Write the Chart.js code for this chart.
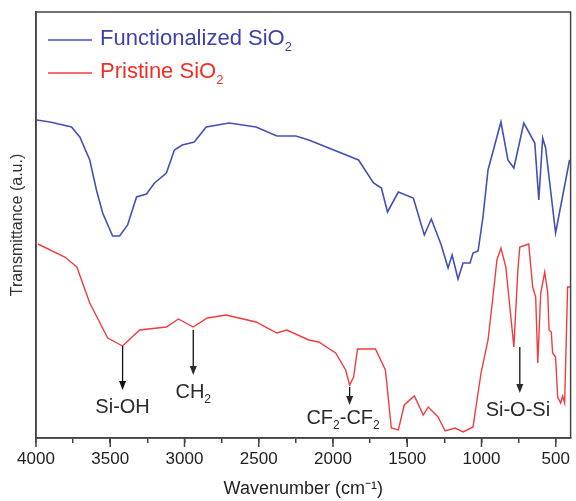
<!DOCTYPE html>
<html>
<head>
<meta charset="utf-8">
<script src="https://cdn.jsdelivr.net/npm/chart.js@4"></script>
<style>
  html, body { margin: 0; padding: 0; background: #fff; }
</style>
</head>
<body>
<canvas id="ftir" width="576" height="501"></canvas>
<script>
// FTIR spectra (y in arbitrary transmittance units)
const blueWavenumber = [3995, 3906, 3761, 3705, 3638, 3593, 3551, 3484, 3437, 3383, 3323, 3256, 3202, 3122, 3068, 3015, 2934, 2854, 2699, 2518, 2378, 2250, 2163, 1828, 1727, 1674, 1633, 1560, 1459, 1385, 1338, 1271, 1225, 1198, 1158, 1124, 1077, 1057, 1023, 990, 956, 869, 822, 782, 715, 641, 614, 588, 568, 501, 407];
const blueTrans = [318, 316, 311, 301, 278, 248, 225, 202, 202, 213, 241, 244, 255, 265, 288, 293, 296, 311, 315, 311, 302, 302, 298, 278, 255, 250, 226, 246, 240, 203, 219, 193, 170, 183, 159, 175, 175, 185, 187, 221, 268, 316, 278, 270, 315, 295, 238, 300, 290, 205, 278];

const redWavenumber = [3987, 3806, 3725, 3638, 3517, 3417, 3303, 3122, 3041, 2941, 2847, 2720, 2518, 2378, 2311, 2163, 2096, 1982, 1915, 1888, 1861, 1835, 1714, 1647, 1607, 1560, 1520, 1452, 1392, 1359, 1292, 1245, 1178, 1124, 1057, 1003, 956, 923, 896, 869, 836, 809, 782, 755, 742, 682, 655, 635, 621, 601, 574, 554, 545, 530, 521, 501, 487, 467, 454, 440, 420, 400];
const redTrans = [194, 181, 171, 135, 100, 92, 108, 111, 119, 111, 120, 123, 116, 105, 108, 98, 96, 85, 68, 53, 61, 89, 89, 68, 10, 8, 33, 42, 23, 31, 21, 7, 10, 6, 11, 65, 98, 141, 178, 190, 171, 131, 91, 168, 191, 194, 151, 141, 75, 145, 166, 145, 108, 106, 85, 81, 41, 35, 42, 35, 151, 151];

const seriesNames = ["Functionalized SiO_2", "Pristine SiO_2"];
const xTicks = [4000, 3750, 3500, 3250, 3000, 2750, 2500, 2250, 2000, 1750, 1500, 1250, 1000, 750, 500];

// band assignments: arrow from curve down to the label
const markLabels = ["Si-OH", "CH_2", "CF_2-CF_2", "Si-O-Si"];
const markWavenumber = [3417, 2941, 1888, 742];
const markFrom = [92, 108, 51, 91];
const markTo = [48, 63, 33, 45];
const markLabelX = [3417, 2941, 1932, 755];
const markLabelY = [31, 46, 20, 28];

const FONT = "'Liberation Sans', Arial, sans-serif";
const BLUE = "#4450b4";
const RED = "#f23c3c";

// text with "_x" subscripts
function drawRich(ctx, str, x, y, size, color, align) {
  const parts = str.split(/_(.)/);
  const sub = Math.round(size * 0.6);
  let total = 0;
  parts.forEach((p, i) => {
    ctx.font = (i % 2 ? sub : size) + "px " + FONT;
    total += ctx.measureText(p).width;
  });
  let cx = align === "center" ? x - total / 2 : x;
  ctx.fillStyle = color;
  ctx.textBaseline = "middle";
  ctx.textAlign = "left";
  parts.forEach((p, i) => {
    const isSub = i % 2 === 1;
    ctx.font = (isSub ? sub : size) + "px " + FONT;
    ctx.fillText(p, cx, isSub ? y + size * 0.38 : y);
    cx += ctx.measureText(p).width;
  });
}

const decor = {
  id: "decor",
  afterDraw(chart) {
    const { ctx, chartArea: a, scales } = chart;
    const xs = scales.x, ys = scales.y;
    ctx.save();

    // frame
    ctx.strokeStyle = "#444";
    ctx.lineWidth = 1.5;
    ctx.strokeRect(a.left, a.top, a.right - a.left, a.bottom - a.top);

    // longer major ticks
    xs.ticks.forEach(t => {
      if (t.value % 500 === 0) {
        const px = xs.getPixelForValue(t.value);
        ctx.beginPath();
        ctx.moveTo(px, a.bottom);
        ctx.lineTo(px, a.bottom + 9);
        ctx.stroke();
      }
    });

    // legend
    const colors = [BLUE, RED];
    seriesNames.forEach((name, i) => {
      const ly = a.top + 28 + i * 33;
      ctx.strokeStyle = colors[i];
      ctx.lineWidth = 1.5;
      ctx.beginPath();
      ctx.moveTo(a.left + 12, ly);
      ctx.lineTo(a.left + 56, ly);
      ctx.stroke();
      drawRich(ctx, name, a.left + 64, ly - 1, 22, i === 0 ? "#3d43a6" : "#ee3124", "left");
    });

    // annotations
    ctx.strokeStyle = "#111";
    ctx.fillStyle = "#111";
    ctx.lineWidth = 1.3;
    markLabels.forEach((lab, i) => {
      const px = xs.getPixelForValue(markWavenumber[i]);
      const y0 = ys.getPixelForValue(markFrom[i]);
      const y1 = ys.getPixelForValue(markTo[i]);
      ctx.beginPath();
      ctx.moveTo(px, y0);
      ctx.lineTo(px, y1 - 6);
      ctx.stroke();
      ctx.beginPath();
      ctx.moveTo(px, y1);
      ctx.lineTo(px - 3.5, y1 - 9);
      ctx.lineTo(px + 3.5, y1 - 9);
      ctx.closePath();
      ctx.fill();
      drawRich(ctx, lab, xs.getPixelForValue(markLabelX[i]), ys.getPixelForValue(markLabelY[i]), 20, "#2a2a2a", "center");
    });
    ctx.restore();
  }
};

new Chart(document.getElementById("ftir"), {
  type: "line",
  data: {
    datasets: [
      {
        label: seriesNames[0],
        data: blueWavenumber.map((w, i) => ({ x: w, y: blueTrans[i] })),
        borderColor: BLUE,
        borderWidth: 1.6,
        pointRadius: 0,
        tension: 0
      },
      {
        label: seriesNames[1],
        data: redWavenumber.map((w, i) => ({ x: w, y: redTrans[i] })),
        borderColor: RED,
        borderWidth: 1.4,
        pointRadius: 0,
        tension: 0
      }
    ]
  },
  options: {
    responsive: false,
    animation: false,
    layout: { padding: { top: 12, right: 3, left: 0, bottom: 0 } },
    plugins: { legend: { display: false }, tooltip: { enabled: false } },
    scales: {
      x: {
        type: "linear",
        reverse: true,
        min: 400,
        max: 4000,
        afterBuildTicks: scale => { scale.ticks = xTicks.map(v => ({ value: v })); },
        afterFit: scale => { scale.height = 63; },
        grid: { drawOnChartArea: false, tickLength: 5, color: "#444", lineWidth: 1.5 },
        border: { display: true, color: "#444", width: 1.5 },
        ticks: {
          autoSkip: false,
          maxRotation: 0,
          padding: 6,
          color: "#222",
          font: { family: FONT, size: 17 },
          callback: v => (v % 500 === 0 ? String(v) : "")
        },
        title: {
          display: true,
          text: "Wavenumber (cm⁻¹)",
          color: "#222",
          font: { family: FONT, size: 18 },
          padding: { top: 0, bottom: 1 }
        }
      },
      y: {
        min: 0,
        max: 426,
        afterFit: scale => { scale.width = 36; },
        grid: { display: false },
        border: { display: true, color: "#444", width: 1.5 },
        ticks: { display: false },
        title: {
          display: true,
          text: "Transmittance (a.u.)",
          color: "#333",
          font: { family: FONT, size: 16 },
          padding: { top: 8, bottom: 0 }
        }
      }
    }
  },
  plugins: [decor]
});
</script>
</body>
</html>
